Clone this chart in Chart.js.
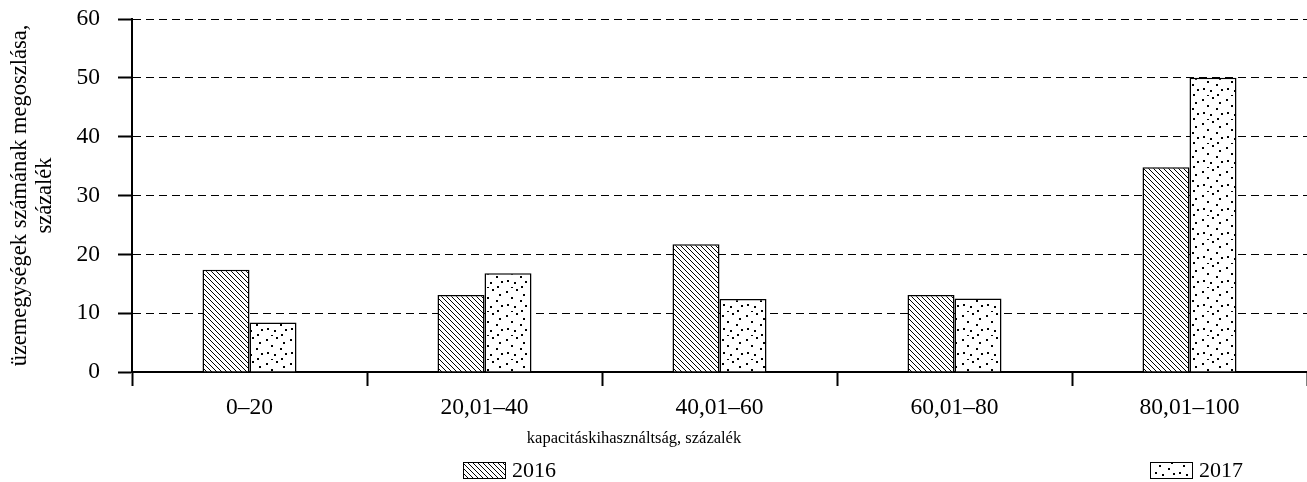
<!DOCTYPE html>
<html>
<head>
  <meta charset="UTF-8">
  <title>Kapacitáskihasználtság</title>
  <script src="https://cdn.jsdelivr.net/npm/chart.js@4.4.0/dist/chart.umd.min.js"></script>
  <style>
    body {
      margin: 0;
      padding: 0;
      background-color: #ffffff;
    }

    #wrap {
      position: relative;
      width: 1307px;
      height: 482px;
    }
  </style>
</head>
<body>
  <div id="wrap"><canvas id="myChart"></canvas></div>

  <script>
    // adatok
    const categories = ['0–20', '20,01–40', '40,01–60', '60,01–80', '80,01–100'];
    const values2016 = [17.4, 13.1, 21.7, 13.1, 34.8];
    const values2017 = [8.4, 16.8, 12.4, 12.5, 50.0];
    const seriesNames = ['2016', '2017'];
    const yTicks = [0, 10, 20, 30, 40, 50, 60];
    const yTitle = ['üzemegységek számának megoszlása,', 'százalék'];
    const xTitle = 'kapacitáskihasználtság, százalék';

    const FONT = '"Liberation Serif", "Times New Roman", serif';

    // ferde vonalkázás (\\\)
    function hatchPattern() {
      const s = 5;
      const c = document.createElement('canvas');
      c.width = s; c.height = s;
      const g = c.getContext('2d');
      g.fillStyle = '#fff';
      g.fillRect(0, 0, s, s);
      g.strokeStyle = '#000';
      g.lineWidth = 1;
      g.beginPath();
      g.moveTo(-1, -1); g.lineTo(s + 1, s + 1);
      g.moveTo(-1, s - 1); g.lineTo(1, s + 1);
      g.moveTo(s - 1, -1); g.lineTo(s + 1, 1);
      g.stroke();
      return g.createPattern(c, 'repeat');
    }

    // pontozott minta
    function dotPattern() {
      const s = 24;
      const c = document.createElement('canvas');
      c.width = s; c.height = s;
      const g = c.getContext('2d');
      g.fillStyle = '#fff';
      g.fillRect(0, 0, s, s);
      g.fillStyle = '#000';
      const dots = [[2, 3], [12, 1], [19, 6], [7, 9], [16, 12], [3, 16], [10, 18], [21, 17], [17, 22], [7, 23]];
      dots.forEach(d => g.fillRect(d[0], d[1], 2, 2));
      return g.createPattern(c, 'repeat');
    }

    const bottomLegend = {
      id: 'bottomLegend',
      afterDraw(chart) {
        const ctx = chart.ctx;
        ctx.save();
        ctx.fillStyle = '#000';
        ctx.textBaseline = 'middle';
        ctx.textAlign = 'center';
        ctx.font = '16.5px ' + FONT;
        ctx.fillText(xTitle, 634, 439);

        const boxX = [463, 1150];
        ctx.font = '22px ' + FONT;
        ctx.textAlign = 'left';
        chart.data.datasets.forEach((ds, i) => {
          const x = boxX[i], y = 462;
          ctx.fillStyle = ds.backgroundColor;
          ctx.fillRect(x, y, 42, 16);
          ctx.strokeStyle = '#000';
          ctx.lineWidth = 1;
          ctx.strokeRect(x + 0.5, y + 0.5, 42, 16);
          ctx.fillStyle = '#000';
          ctx.fillText(ds.label, x + 49, y + 9);
        });
        ctx.restore();
      }
    };

    function drawChart() {
      const ctx = document.getElementById('myChart');

      const chartData = {
        labels: categories,
        datasets: [{
          label: seriesNames[0],
          data: values2016,
          backgroundColor: hatchPattern(),
          borderColor: '#000',
          borderWidth: 1.5
        }, {
          label: seriesNames[1],
          data: values2017,
          backgroundColor: dotPattern(),
          borderColor: '#000',
          borderWidth: 1.5
        }]
      };

      const config = {
        type: 'bar',
        data: chartData,
        plugins: [bottomLegend],
        options: {
          responsive: true,
          maintainAspectRatio: false,
          animation: false,
          datasets: {
            bar: {
              categoryPercentage: 0.4,
              barPercentage: 1.0
            }
          },
          layout: {
            padding: { left: 0, right: 0, top: 19, bottom: 0 }
          },
          plugins: {
            legend: { display: false },
            tooltip: { enabled: false }
          },
          scales: {
            x: {
              offset: true,
              afterFit(scale) {
                scale.height = 110;
                scale.paddingRight = 0;
              },
              grid: {
                offset: true,
                drawOnChartArea: false,
                color: '#000',
                tickColor: '#000',
                tickLength: 14,
                tickWidth: 2
              },
              border: { display: true, color: '#000', width: 2 },
              ticks: {
                color: '#000',
                padding: 8,
                font: { family: FONT, size: 23.5 }
              }
            },
            y: {
              min: 0,
              max: 60,
              afterFit(scale) {
                scale.width = 132;
                scale.paddingTop = 0;
              },
              afterBuildTicks(scale) {
                scale.ticks = yTicks.map(v => ({ value: v }));
              },
              grid: {
                color: '#000',
                lineWidth: 1,
                tickColor: '#000',
                tickLength: 14,
                tickWidth: 2,
                tickBorderDash: []
              },
              border: { display: true, color: '#000', width: 2, dash: [8, 5] },
              ticks: {
                color: '#000',
                padding: 18,
                font: { family: FONT, size: 23.5 }
              },
              title: {
                display: true,
                text: yTitle,
                color: '#000',
                padding: { top: 7, bottom: 0 },
                font: { family: FONT, size: 22.5, lineHeight: 1.12 }
              }
            }
          }
        }
      };

      if (drawChart.chart) {
        drawChart.chart.destroy();
      }
      drawChart.chart = new Chart(ctx, config);
    }

    drawChart();
  </script>
</body>
</html>
